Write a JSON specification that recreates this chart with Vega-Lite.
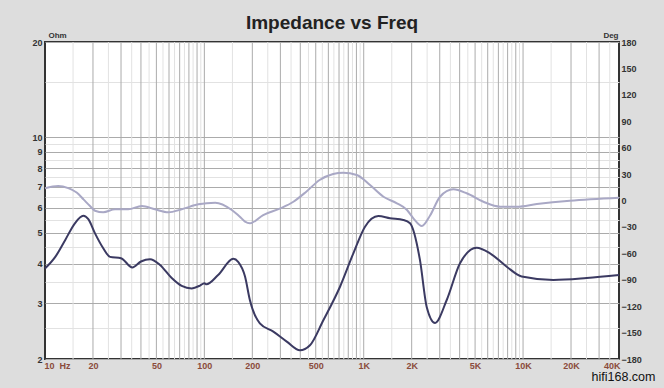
{
  "$schema": "https://vega.github.io/schema/vega-lite/v6.json",
  "width": 574,
  "height": 317,
  "autosize": {"type": "none"},
  "padding": {"left": 45, "top": 42, "right": 45, "bottom": 29},
  "background": "#dddddd",
  "title": {"text": "Impedance vs Freq", "fontSize": 19, "fontWeight": "bold", "color": "#222222", "anchor": "middle", "baseline": "alphabetic", "offset": -17},
  "config": {
    "font": "Liberation Sans",
    "view": {"stroke": "#333333", "strokeWidth": 2, "fill": "#ffffff"}
  },
  "datasets": {
    "imp": [{"f":10,"ohm":3.86},{"f":11.6,"ohm":4.2},{"f":13.4,"ohm":4.75},{"f":15.4,"ohm":5.36},{"f":17.4,"ohm":5.66},{"f":18.7,"ohm":5.52},{"f":20.6,"ohm":4.98},{"f":23.2,"ohm":4.47},{"f":25.6,"ohm":4.2},{"f":30,"ohm":4.16},{"f":35.3,"ohm":3.89},{"f":40,"ohm":4.06},{"f":45.6,"ohm":4.13},{"f":52.7,"ohm":3.96},{"f":62.4,"ohm":3.6},{"f":72.1,"ohm":3.4},{"f":83.3,"ohm":3.34},{"f":93.9,"ohm":3.41},{"f":100,"ohm":3.47},{"f":103,"ohm":3.44},{"f":122,"ohm":3.68},{"f":152,"ohm":4.14},{"f":163,"ohm":4.05},{"f":180,"ohm":3.64},{"f":193,"ohm":3.07},{"f":223,"ohm":2.59},{"f":271,"ohm":2.44},{"f":329,"ohm":2.27},{"f":398,"ohm":2.13},{"f":460,"ohm":2.21},{"f":558,"ohm":2.65},{"f":710,"ohm":3.38},{"f":861,"ohm":4.31},{"f":1019,"ohm":5.23},{"f":1235,"ohm":5.65},{"f":1462,"ohm":5.56},{"f":1773,"ohm":5.49},{"f":1953,"ohm":5.36},{"f":2255,"ohm":4.1},{"f":2485,"ohm":2.92},{"f":2803,"ohm":2.6},{"f":3319,"ohm":3.07},{"f":4021,"ohm":4.01},{"f":5117,"ohm":4.49},{"f":6202,"ohm":4.31},{"f":7897,"ohm":3.91},{"f":9806,"ohm":3.64},{"f":15490,"ohm":3.55},{"f":25080,"ohm":3.6},{"f":40000,"ohm":3.68}],
    "phase": [{"f":10,"deg":14},{"f":12.1,"deg":16.5},{"f":14,"deg":14},{"f":15.8,"deg":9},{"f":17.5,"deg":1},{"f":19.1,"deg":-6},{"f":20.6,"deg":-11.6},{"f":23.2,"deg":-13.4},{"f":27.5,"deg":-10},{"f":33.3,"deg":-10},{"f":40.5,"deg":-6.2},{"f":49,"deg":-10},{"f":59.5,"deg":-13.4},{"f":72,"deg":-10},{"f":91.6,"deg":-4.3},{"f":117,"deg":-2.5},{"f":148.7,"deg":-10.8},{"f":167,"deg":-18.4},{"f":180,"deg":-24},{"f":193,"deg":-25.9},{"f":234,"deg":-16.5},{"f":300,"deg":-8.9},{"f":362,"deg":-1.4},{"f":436,"deg":10},{"f":529,"deg":23.3},{"f":643,"deg":30.1},{"f":744,"deg":31.6},{"f":904,"deg":29},{"f":1096,"deg":17.6},{"f":1331,"deg":4.3},{"f":1616,"deg":-3.2},{"f":1870,"deg":-10.8},{"f":2050,"deg":-20.2},{"f":2318,"deg":-29},{"f":2610,"deg":-17},{"f":3013,"deg":4.3},{"f":3650,"deg":12.7},{"f":4430,"deg":8.2},{"f":5640,"deg":-1.4},{"f":7180,"deg":-7},{"f":9140,"deg":-7},{"f":12200,"deg":-4},{"f":19660,"deg":-0.2},{"f":40000,"deg":3.2}],
    "vgrid": [{"f":15,"kind":"minor"},{"f":25,"kind":"minor"},{"f":35,"kind":"minor"},{"f":45,"kind":"minor"},{"f":55,"kind":"minor"},{"f":65,"kind":"minor"},{"f":75,"kind":"minor"},{"f":85,"kind":"minor"},{"f":95,"kind":"minor"},{"f":150,"kind":"minor"},{"f":250,"kind":"minor"},{"f":350,"kind":"minor"},{"f":450,"kind":"minor"},{"f":550,"kind":"minor"},{"f":650,"kind":"minor"},{"f":750,"kind":"minor"},{"f":850,"kind":"minor"},{"f":950,"kind":"minor"},{"f":1500,"kind":"minor"},{"f":2500,"kind":"minor"},{"f":3500,"kind":"minor"},{"f":4500,"kind":"minor"},{"f":5500,"kind":"minor"},{"f":6500,"kind":"minor"},{"f":7500,"kind":"minor"},{"f":8500,"kind":"minor"},{"f":9500,"kind":"minor"},{"f":15000,"kind":"minor"},{"f":25000,"kind":"minor"},{"f":35000,"kind":"minor"},{"f":20,"kind":"major"},{"f":30,"kind":"major"},{"f":40,"kind":"major"},{"f":50,"kind":"major"},{"f":60,"kind":"major"},{"f":70,"kind":"major"},{"f":80,"kind":"major"},{"f":90,"kind":"major"},{"f":100,"kind":"major"},{"f":200,"kind":"major"},{"f":300,"kind":"major"},{"f":400,"kind":"major"},{"f":500,"kind":"major"},{"f":600,"kind":"major"},{"f":700,"kind":"major"},{"f":800,"kind":"major"},{"f":900,"kind":"major"},{"f":1000,"kind":"major"},{"f":2000,"kind":"major"},{"f":3000,"kind":"major"},{"f":4000,"kind":"major"},{"f":5000,"kind":"major"},{"f":6000,"kind":"major"},{"f":7000,"kind":"major"},{"f":8000,"kind":"major"},{"f":9000,"kind":"major"},{"f":10000,"kind":"major"},{"f":20000,"kind":"major"},{"f":30000,"kind":"major"}]
  },
  "layer": [
    {
      "data": {"name": "vgrid"},
      "mark": {"type": "rule", "strokeWidth": 1},
      "encoding": {
        "x": {
          "field": "f", "type": "quantitative", "scale": {"type": "log", "domain": [10, 40000]},
          "axis": {
            "orient": "bottom",
            "values": [10, 20, 50, 100, 200, 500, 1000, 2000, 5000, 10000, 20000, 40000],
            "labelExpr": "datum.value == 10 ? '10\u00a0\u00a0Hz' : (datum.value >= 1000 ? (datum.value / 1000) + 'K' : datum.value + '')",
            "grid": false, "ticks": false, "domain": false,
            "labelColor": "#8b4b3b", "labelFontSize": 9, "labelFontWeight": "bold", "labelPadding": 2,
            "labelOverlap": false, "labelFlush": true, "labelFlushOffset": 1,
            "title": "hifi168.com", "titleX": 610, "titleY": 21.5, "titleAlign": "right", "titleBaseline": "alphabetic",
            "titleFontSize": 12.5, "titleFontWeight": "normal", "titleColor": "#111111"
          }
        },
        "color": {"field": "kind", "type": "nominal", "scale": {"domain": ["minor", "major"], "range": ["#e2e2e2", "#ababab"]}, "legend": null}
      }
    },
    {
      "data": {"name": "phase"},
      "mark": {"type": "line", "color": "#a9a8c5", "strokeWidth": 2, "interpolate": "monotone"},
      "encoding": {
        "x": {
          "field": "f", "type": "quantitative", "scale": {"type": "log", "domain": [10, 40000]},
          "axis": {
            "orient": "bottom",
            "values": [10, 20, 50, 100, 200, 500, 1000, 2000, 5000, 10000, 20000, 40000],
            "labelExpr": "datum.value == 10 ? '10\u00a0\u00a0Hz' : (datum.value >= 1000 ? (datum.value / 1000) + 'K' : datum.value + '')",
            "grid": false, "ticks": false, "domain": false,
            "labelColor": "#8b4b3b", "labelFontSize": 9, "labelFontWeight": "bold", "labelPadding": 2,
            "labelOverlap": false, "labelFlush": true, "labelFlushOffset": 1,
            "title": "hifi168.com", "titleX": 610, "titleY": 21.5, "titleAlign": "right", "titleBaseline": "alphabetic",
            "titleFontSize": 12.5, "titleFontWeight": "normal", "titleColor": "#111111"
          }
        },
        "y": {
          "field": "deg", "type": "quantitative", "scale": {"domain": [-180, 180]},
          "axis": {
            "orient": "right",
            "values": [-180, -150, -120, -90, -60, -30, 0, 30, 60, 90, 120, 150, 180],
            "grid": false, "ticks": false, "domain": false,
            "labelColor": "#333333", "labelFontSize": 9, "labelFontWeight": "bold", "labelPadding": 2,
            "labelOverlap": false, "labelFlush": false,
            "title": "Deg", "titleAngle": 0, "titleAlign": "right", "titleBaseline": "alphabetic",
            "titleX": -1, "titleY": -5, "titleFontSize": 8, "titleFontWeight": "bold", "titleColor": "#333333"
          }
        }
      }
    },
    {
      "data": {"name": "imp"},
      "mark": {"type": "line", "color": "#3b3a62", "strokeWidth": 2, "interpolate": "monotone"},
      "encoding": {
        "x": {
          "field": "f", "type": "quantitative", "scale": {"type": "log", "domain": [10, 40000]},
          "axis": {
            "orient": "bottom",
            "values": [10, 20, 50, 100, 200, 500, 1000, 2000, 5000, 10000, 20000, 40000],
            "labelExpr": "datum.value == 10 ? '10\u00a0\u00a0Hz' : (datum.value >= 1000 ? (datum.value / 1000) + 'K' : datum.value + '')",
            "grid": false, "ticks": false, "domain": false,
            "labelColor": "#8b4b3b", "labelFontSize": 9, "labelFontWeight": "bold", "labelPadding": 2,
            "labelOverlap": false, "labelFlush": true, "labelFlushOffset": 1,
            "title": "hifi168.com", "titleX": 610, "titleY": 21.5, "titleAlign": "right", "titleBaseline": "alphabetic",
            "titleFontSize": 12.5, "titleFontWeight": "normal", "titleColor": "#111111"
          }
        },
        "y": {
          "field": "ohm", "type": "quantitative", "scale": {"type": "log", "domain": [2, 20]},
          "axis": {
            "orient": "left",
            "values": [2, 2.5, 3, 3.5, 4, 4.5, 5, 5.5, 6, 6.5, 7, 7.5, 8, 8.5, 9, 9.5, 10, 15, 20],
            "labelExpr": "(datum.value % 1 != 0 || datum.value == 15) ? '' : datum.value + ''",
            "grid": true,
            "gridColor": {"condition": {"test": "datum.value % 1 != 0 || datum.value == 15", "value": "#e2e2e2"}, "value": "#ababab"},
            "gridWidth": 1, "gridOpacity": 1,
            "ticks": false, "domain": false,
            "labelColor": "#333333", "labelFontSize": 9, "labelFontWeight": "bold", "labelPadding": 3,
            "labelOverlap": false, "labelFlush": false,
            "title": "Ohm", "titleAngle": 0, "titleAlign": "left", "titleBaseline": "alphabetic",
            "titleX": 3, "titleY": -5, "titleFontSize": 8, "titleFontWeight": "bold", "titleColor": "#333333"
          }
        }
      }
    }
  ],
  "resolve": {"scale": {"y": "independent"}}
}
